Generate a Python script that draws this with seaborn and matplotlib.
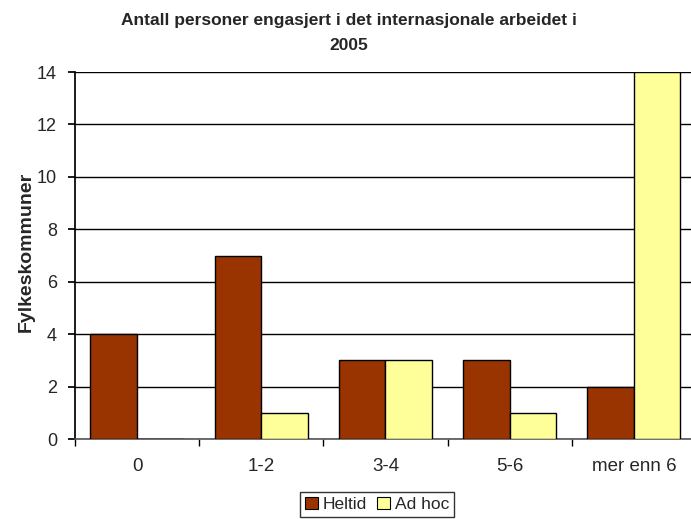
import matplotlib
matplotlib.use("Agg")
import matplotlib.pyplot as plt
import numpy as np
import pandas as pd
import seaborn as sns

categories = ["0", "1-2", "3-4", "5-6", "mer enn 6"]
heltid = [4, 7, 3, 3, 2]
ad_hoc = [0, 1, 3, 1, 14]
series_names = ["Heltid", "Ad hoc"]

df = pd.DataFrame({
    "kategori": categories * 2,
    "verdi": heltid + ad_hoc,
    "serie": [series_names[0]] * len(categories) + [series_names[1]] * len(categories),
})

sns.set_theme(style="white")
plt.rcParams['font.family'] = ['Liberation Sans', 'DejaVu Sans']

fig = plt.figure(figsize=(6.91, 5.19), dpi=100)
ax = fig.add_axes([0.1085, 0.1541, 0.8987, 0.7071])

sns.barplot(data=df, x="kategori", y="verdi", hue="serie", order=categories,
            hue_order=series_names, palette=["#993300", "#FFFF99"],
            width=0.75, edgecolor="black", linewidth=1.0, saturation=1,
            ax=ax, zorder=3)

ax.set_ylim(0, 14)
ax.set_xlim(-0.5, len(categories) - 0.5)
ax.set_yticks(np.arange(0, 15, 2))
ax.yaxis.grid(True, color="black", linewidth=1.0, zorder=0)
ax.set_axisbelow(True)

for side in ["top", "right"]:
    ax.spines[side].set_visible(False)
ax.spines["left"].set_color("black")
ax.spines["bottom"].set_color("#555555")
ax.spines["bottom"].set_linewidth(1.2)

ax.tick_params(axis="y", left=True, length=5, color="black", labelsize=13, pad=8)
ax.tick_params(axis="x", bottom=True, length=0, labelsize=13.5, pad=14)
ax.set_xticks(np.arange(-0.5, len(categories)), minor=True)
ax.tick_params(axis="x", which="minor", bottom=True, length=5, color="black")

ax.set_xlabel("")
ax.set_ylabel("Fylkeskommuner", fontsize=14, fontweight="bold")
ax.yaxis.set_label_coords(-0.064, 0.51)

fig.suptitle("Antall personer engasjert i det internasjonale arbeidet i\n2005",
             x=0.505, y=0.975, fontsize=12.5, fontweight="bold", linespacing=1.85)

ax.get_legend().remove()
handles = [plt.Rectangle((0, 0), 1, 1, facecolor=c, edgecolor="black", linewidth=0.8)
           for c in ["#993300", "#FFFF99"]]
leg = fig.legend(handles, series_names, loc="lower center", bbox_to_anchor=(0.546, 0.0),
                 ncol=2, fontsize=12.5, frameon=True, fancybox=False, edgecolor="black",
                 handlelength=0.7, handleheight=0.7, handletextpad=0.3,
                 columnspacing=0.6, borderpad=0.3, borderaxespad=0.1)
leg.get_frame().set_linewidth(1.0)

fig.savefig("out.png", dpi=100)
